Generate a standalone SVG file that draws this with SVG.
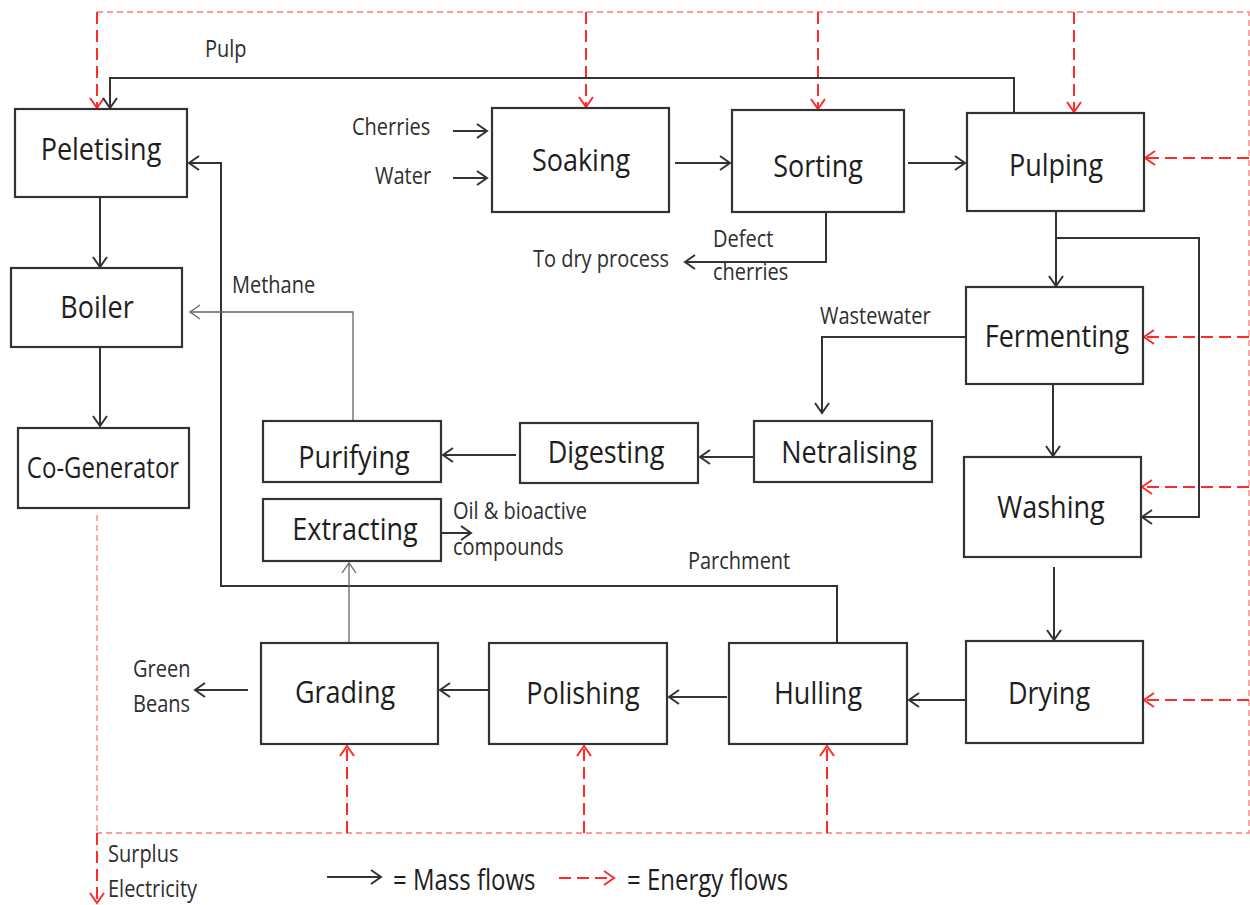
<svg xmlns="http://www.w3.org/2000/svg" width="1250" height="905" viewBox="0 0 1250 905">
<style>
.box{fill:#fff;stroke:#333;stroke-width:2.2}
.lb{font-family:"Open Sans","Noto Sans",sans-serif;font-size:27px;fill:#1e1e1e;text-anchor:middle}
.sm{font-family:"Open Sans","Noto Sans",sans-serif;font-size:20px;fill:#2e2e2e}
.lg{font-family:"Open Sans","Noto Sans",sans-serif;font-size:24px;fill:#1e1e1e}
.m{fill:none;stroke:#333;stroke-width:2}
.t{fill:none;stroke:#666;stroke-width:1.3}
.e{fill:none;stroke:#ff2a2a;stroke-width:2;stroke-dasharray:12 6}
.et{fill:none;stroke:#ff7a7a;stroke-width:1.3;stroke-dasharray:6 4}
</style>
<defs>
<marker id="ma" markerWidth="14" markerHeight="18" refX="12" refY="9" orient="auto" markerUnits="userSpaceOnUse"><path d="M2,2 L12,9 L2,16" fill="none" stroke="#333" stroke-width="2"/></marker>
<marker id="mt" markerWidth="14" markerHeight="18" refX="12" refY="9" orient="auto" markerUnits="userSpaceOnUse"><path d="M2,2 L12,9 L2,16" fill="none" stroke="#666" stroke-width="1.3"/></marker>
<marker id="me" markerWidth="14" markerHeight="18" refX="12" refY="9" orient="auto" markerUnits="userSpaceOnUse"><path d="M2,2 L12,9 L2,16" fill="none" stroke="#ff2a2a" stroke-width="2"/></marker>
</defs>
<rect width="1250" height="905" fill="#fff"/>

<g id="connectors">
<g id="energy">
<path class="et" d="M97,12 H1249 V833 H97 M97,515 V833"/>
<path class="e" marker-end="url(#me)" d="M97,12 V108"/>
<path class="e" marker-end="url(#me)" d="M586,12 V107"/>
<path class="e" marker-end="url(#me)" d="M818,12 V109"/>
<path class="e" marker-end="url(#me)" d="M1074,12 V112"/>
<path class="e" marker-end="url(#me)" d="M1249,158 H1145"/>
<path class="e" marker-end="url(#me)" d="M1249,337 H1144"/>
<path class="e" marker-end="url(#me)" d="M1249,487 H1142"/>
<path class="e" marker-end="url(#me)" d="M1249,700 H1144"/>
<path class="e" marker-end="url(#me)" d="M347,833 V746"/>
<path class="e" marker-end="url(#me)" d="M584,833 V746"/>
<path class="e" marker-end="url(#me)" d="M827,833 V746"/>
<path class="e" marker-end="url(#me)" d="M97,833 V903"/>
</g>
<g id="mass">
<path class="m" marker-end="url(#ma)" d="M1014,113 V78 H110 V108"/>
<path class="m" marker-end="url(#ma)" d="M453,131 H487"/>
<path class="m" marker-end="url(#ma)" d="M453,178 H487"/>
<path class="m" marker-end="url(#ma)" d="M675,163 H730"/>
<path class="m" marker-end="url(#ma)" d="M908,163 H965"/>
<path class="m" marker-end="url(#ma)" d="M826,212 V262 H685"/>
<path class="m" marker-end="url(#ma)" d="M1056,211 V286"/>
<path class="m" marker-end="url(#ma)" d="M1056,238 H1199 V517 H1142"/>
<path class="m" marker-end="url(#ma)" d="M966,337 H822 V413"/>
<path class="m" marker-end="url(#ma)" d="M1053,384 V456"/>
<path class="m" marker-end="url(#ma)" d="M1054,567 V640"/>
<path class="m" marker-end="url(#ma)" d="M966,700 H909"/>
<path class="m" marker-end="url(#ma)" d="M727,697 H669"/>
<path class="m" marker-end="url(#ma)" d="M489,690 H440"/>
<path class="m" marker-end="url(#ma)" d="M248,690 H195"/>
<path class="m" marker-end="url(#ma)" d="M754,457 H700"/>
<path class="m" marker-end="url(#ma)" d="M516,455 H443"/>
<path class="m" marker-end="url(#ma)" d="M441,533 H471"/>
<path class="m" marker-end="url(#ma)" d="M837,643 V586 H221 V163 H189"/>
<path class="m" marker-end="url(#ma)" d="M100,197 V267"/>
<path class="m" marker-end="url(#ma)" d="M100,347 V426"/>
<path class="t" marker-end="url(#mt)" d="M353,421 V312 H190"/>
<path class="t" marker-end="url(#mt)" d="M349,652 V563"/>
</g>
<g id="legend">
<path class="m" marker-end="url(#ma)" d="M327,877 H381"/>
<path class="e" stroke-dasharray="11 6" marker-end="url(#me)" d="M559,878 H614"/>
<text class="lg" x="393" y="887" transform="matrix(1 0 0 1.18 0 -156.7)">= Mass flows</text>
<text class="lg" x="627" y="887" transform="matrix(1 0 0 1.18 0 -156.7)">= Energy flows</text>
</g>
</g>

<g id="peletising"><rect class="box" x="15" y="109" width="172" height="88"/><text class="lb" x="101" y="160" transform="matrix(1 0 0 1.18 0 -28.8)">Peletising</text></g>
<g id="boiler"><rect class="box" x="11" y="268" width="171" height="79"/><text class="lb" x="97" y="318" transform="matrix(1 0 0 1.18 0 -57.2)">Boiler</text></g>
<g id="cogenerator"><rect class="box" x="18" y="428" width="171" height="80"/><text class="lb" x="103" y="478" style="font-size:24px" transform="matrix(1 0 0 1.18 0 -86)">Co-Generator</text></g>
<g id="soaking"><rect class="box" x="492" y="108" width="177" height="104"/><text class="lb" x="581" y="171" transform="matrix(1 0 0 1.18 0 -30.8)">Soaking</text></g>
<g id="sorting"><rect class="box" x="732" y="110" width="172" height="102"/><text class="lb" x="818" y="177" transform="matrix(1 0 0 1.18 0 -31.9)">Sorting</text></g>
<g id="pulping"><rect class="box" x="967" y="113" width="177" height="98"/><text class="lb" x="1056" y="176" transform="matrix(1 0 0 1.18 0 -31.7)">Pulping</text></g>
<g id="fermenting"><rect class="box" x="966" y="287" width="177" height="97"/><text class="lb" x="1057" y="347" transform="matrix(1 0 0 1.18 0 -62.5)">Fermenting</text></g>
<g id="washing"><rect class="box" x="964" y="457" width="177" height="100"/><text class="lb" x="1051" y="518" transform="matrix(1 0 0 1.18 0 -93.2)">Washing</text></g>
<g id="drying"><rect class="box" x="966" y="641" width="177" height="102"/><text class="lb" x="1049" y="704" transform="matrix(1 0 0 1.18 0 -126.7)">Drying</text></g>
<g id="hulling"><rect class="box" x="729" y="643" width="178" height="101"/><text class="lb" x="818" y="704" transform="matrix(1 0 0 1.18 0 -126.7)">Hulling</text></g>
<g id="polishing"><rect class="box" x="489" y="643" width="178" height="101"/><text class="lb" x="583" y="704" transform="matrix(1 0 0 1.18 0 -126.7)">Polishing</text></g>
<g id="grading"><rect class="box" x="261" y="643" width="177" height="101"/><text class="lb" x="345" y="703" transform="matrix(1 0 0 1.18 0 -126.5)">Grading</text></g>
<g id="purifying"><rect class="box" x="263" y="421" width="178" height="61"/><text class="lb" x="354" y="468" transform="matrix(1 0 0 1.18 0 -84.2)">Purifying</text></g>
<g id="extracting"><rect class="box" x="263" y="499" width="178" height="62"/><text class="lb" x="355" y="540" transform="matrix(1 0 0 1.18 0 -97.2)">Extracting</text></g>
<g id="digesting"><rect class="box" x="520" y="423" width="178" height="60"/><text class="lb" x="606" y="463" transform="matrix(1 0 0 1.18 0 -83.3)">Digesting</text></g>
<g id="netralising"><rect class="box" x="754" y="421" width="178" height="61"/><text class="lb" x="849" y="463" transform="matrix(1 0 0 1.18 0 -83.3)">Netralising</text></g>

<g id="labels">
<text class="sm" x="205" y="57" transform="matrix(1 0 0 1.2 0 -11.4)">Pulp</text>
<text class="sm" x="352" y="135" transform="matrix(1 0 0 1.2 0 -27)">Cherries</text>
<text class="sm" x="375" y="184" transform="matrix(1 0 0 1.2 0 -36.8)">Water</text>
<text class="sm" x="713" y="247" transform="matrix(1 0 0 1.2 0 -49.4)">Defect</text>
<text class="sm" x="713" y="280" transform="matrix(1 0 0 1.2 0 -56)">cherries</text>
<text class="sm" x="533" y="267" transform="matrix(1 0 0 1.2 0 -53.4)">To dry process</text>
<text class="sm" x="232" y="293" transform="matrix(1 0 0 1.2 0 -58.6)">Methane</text>
<text class="sm" x="820" y="324" transform="matrix(1 0 0 1.2 0 -64.8)">Wastewater</text>
<text class="sm" x="453" y="519" transform="matrix(1 0 0 1.2 0 -103.8)">Oil &amp; bioactive</text>
<text class="sm" x="453" y="555" transform="matrix(1 0 0 1.2 0 -111)">compounds</text>
<text class="sm" x="688" y="569" transform="matrix(1 0 0 1.2 0 -113.8)">Parchment</text>
<text class="sm" x="133" y="677" transform="matrix(1 0 0 1.2 0 -135.4)">Green</text>
<text class="sm" x="133" y="712" transform="matrix(1 0 0 1.2 0 -142.4)">Beans</text>
<text class="sm" x="108" y="862" transform="matrix(1 0 0 1.2 0 -172.4)">Surplus</text>
<text class="sm" x="108" y="897" transform="matrix(1 0 0 1.2 0 -179.4)">Electricity</text>
</g>
</svg>
